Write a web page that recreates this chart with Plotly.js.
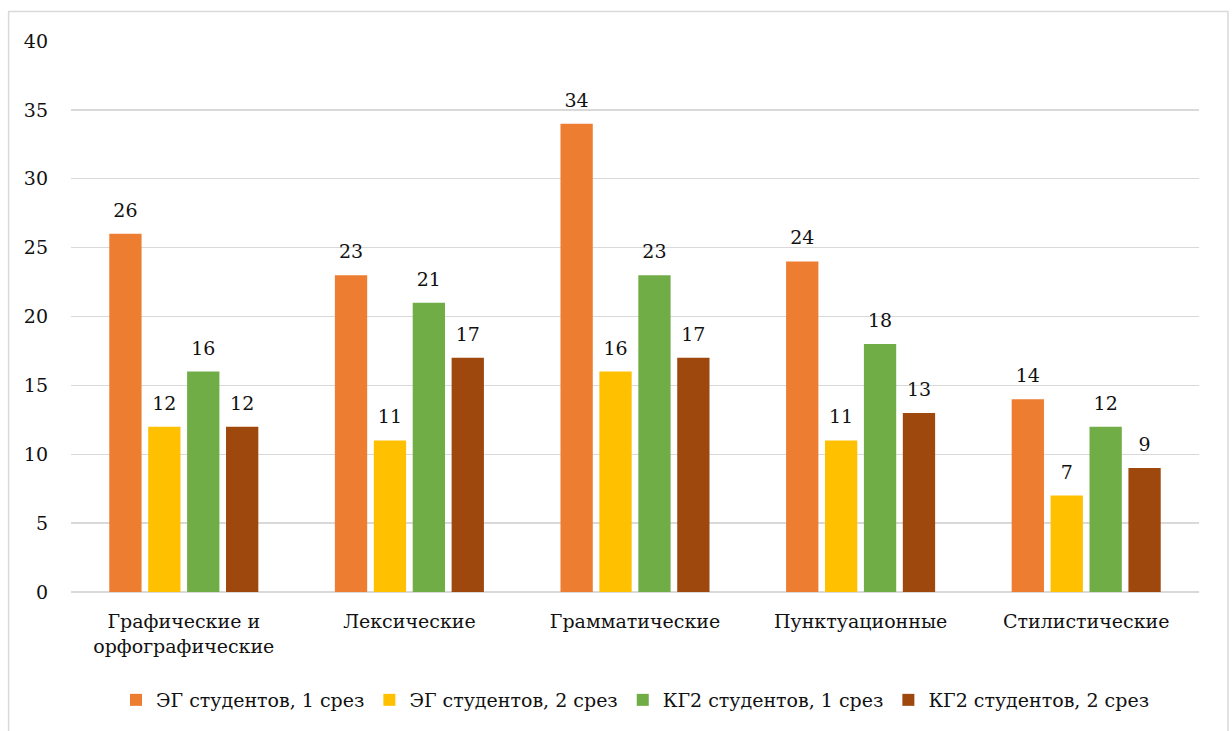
<!DOCTYPE html>
<html><head><meta charset="utf-8">
<script src="https://cdn.plot.ly/plotly-3.0.1.min.js"></script>
<style>body{margin:0;background:#fff}#c{width:1232px;height:731px}</style>
</head><body><div id="c"></div>
<script>
const categories = ["Графические и<br>орфографические", "Лексические", "Грамматические", "Пунктуационные", "Стилистические"];
const seriesNames = ["ЭГ студентов, 1 срез", "ЭГ студентов, 2 срез", "КГ2 студентов, 1 срез", "КГ2 студентов, 2 срез"];
const eg1 = [26, 23, 34, 24, 14];
const eg2 = [12, 11, 16, 11, 7];
const kg1 = [16, 21, 23, 18, 12];
const kg2 = [12, 17, 17, 13, 9];
const colors = ["#ED7D31", "#FFC000", "#70AD47", "#9E480E"];
const values = [eg1, eg2, kg1, kg2];
const font = {family: "DejaVu Serif", size: 19, color: "#111111"};
const bars = values.map((v, i) => ({
  type: "bar", x: categories, y: v, name: seriesNames[i],
  marker: {color: colors[i]}, hoverinfo: "skip"
}));
const labels = values.map((v, i) => ({
  type: "scatter", mode: "markers+text", x: categories, y: v,
  text: v.map(String), textposition: "top center", textfont: font,
  marker: {size: 18, opacity: 0, color: colors[i]},
  showlegend: false, cliponaxis: false, hoverinfo: "skip"
}));
const layout = {
  width: 1232, height: 731,
  margin: {l: 71, r: 33, t: 41, b: 134},
  paper_bgcolor: "#fff", plot_bgcolor: "#fff",
  font: font,
  barmode: "group", bargap: 0.31, bargroupgap: 0.17,
  scattermode: "group", scattergap: 0.31,
  xaxis: {showgrid: false, showline: false, zeroline: false, ticks: "", tickfont: font, ticklabelstandoff: 16, automargin: false},
  yaxis: {range: [0, 40], dtick: 5, showgrid: true, gridcolor: "#D9D9D9", gridwidth: 1.3, zeroline: true, zerolinecolor: "#D9D9D9", zerolinewidth: 1.3, showline: false, ticks: "", tickfont: font, ticklabelstandoff: 22, automargin: false},
  showlegend: true,
  legend: {orientation: "h", x: 0.5, xanchor: "center", y: -0.196, yanchor: "middle", font: font, itemwidth: 30, traceorder: "normal"},
  shapes: [{type: "rect", xref: "paper", yref: "paper", x0: -0.0553, x1: 1.0257, y0: -0.26, y1: 1.0536, line: {color: "#D9D9D9", width: 1.5}, fillcolor: "rgba(0,0,0,0)", layer: "below"}]
};
Plotly.newPlot("c", bars.concat(labels), layout, {staticPlot: true});
</script></body></html>
